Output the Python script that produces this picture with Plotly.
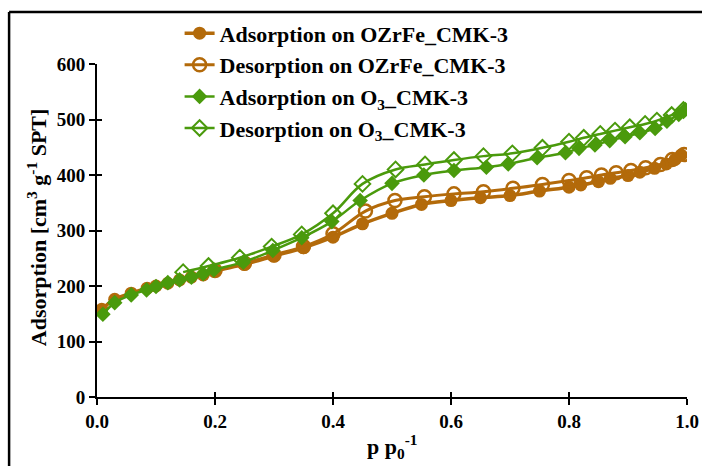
import plotly.graph_objects as go

# Relative pressure (p/p0) and adsorbed volume (cm3 g-1 STP)
p_ads_ozrfe = [0.008, 0.03, 0.058, 0.085, 0.10, 0.12, 0.14, 0.16, 0.18, 0.20, 0.25, 0.30, 0.35,
               0.40, 0.45, 0.50, 0.55, 0.60, 0.65, 0.70, 0.75, 0.80, 0.82, 0.85, 0.87, 0.90,
               0.92, 0.945, 0.965, 0.98, 0.99]
v_ads_ozrfe = [158, 176, 187, 196, 200, 205, 211, 216, 220, 227, 239, 254, 269,
               288, 312, 331, 347, 354, 359, 363, 371, 378, 382, 388, 394, 399,
               405, 412, 420, 428, 436]

p_des_ozrfe = [0.995, 0.975, 0.955, 0.93, 0.905, 0.88, 0.855, 0.83, 0.80, 0.755, 0.705, 0.655,
               0.605, 0.555, 0.505, 0.455, 0.40, 0.35, 0.30, 0.25, 0.20]
v_des_ozrfe = [437, 428, 419, 413, 408, 404, 400, 395, 390, 383, 376, 370,
               366, 361, 354, 335, 294, 271, 256, 241, 228]

p_ads_o3 = [0.01, 0.03, 0.058, 0.084, 0.10, 0.12, 0.14, 0.16, 0.18, 0.198, 0.248, 0.298, 0.347,
            0.398, 0.446, 0.50, 0.554, 0.605, 0.66, 0.697, 0.746, 0.794, 0.817, 0.844, 0.869,
            0.895, 0.92, 0.946, 0.966, 0.986, 0.997]
v_ads_o3 = [149, 170, 184, 193, 199, 206, 211, 216, 222, 229, 243, 264, 287,
            316, 354, 385, 400, 408, 414, 420, 431, 440, 448, 454, 462,
            469, 476, 484, 497, 509, 518]

p_des_o3 = [0.994, 0.974, 0.949, 0.929, 0.903, 0.878, 0.853, 0.825, 0.80, 0.755, 0.704, 0.655,
            0.605, 0.556, 0.506, 0.45, 0.40, 0.347, 0.296, 0.242, 0.189, 0.146]
v_des_o3 = [517, 508, 498, 492, 486, 480, 474, 467, 460, 449, 439, 434,
            427, 419, 410, 384, 331, 293, 271, 251, 236, 225]

x_ticks = [0.0, 0.2, 0.4, 0.6, 0.8, 1.0]
x_tick_text = ["0.0", "0.2", "0.4", "0.6", "0.8", "1.0"]
y_ticks = [0, 100, 200, 300, 400, 500, 600]

BROWN = "#B36A0A"
GREEN = "#4A9A0C"
FONT = "Liberation Serif, Times New Roman, serif"

fig = go.Figure()

fig.add_trace(go.Scatter(
    x=p_ads_ozrfe, y=v_ads_ozrfe, mode="lines+markers", line_shape="spline",
    name="<b>Adsorption on OZrFe_CMK-3</b>", legendgroup="g0",
    line=dict(color=BROWN, width=3.5),
    marker=dict(symbol="circle", size=13, color=BROWN),
))
fig.add_trace(go.Scatter(
    x=p_des_ozrfe, y=v_des_ozrfe, mode="lines+markers", line_shape="spline",
    name="<b>Desorption on OZrFe_CMK-3</b>", legendgroup="g1",
    line=dict(color=BROWN, width=3),
    marker=dict(symbol="circle-open", size=13, color=BROWN, line=dict(width=2.5, color=BROWN)),
))
fig.add_trace(go.Scatter(
    x=p_ads_o3, y=v_ads_o3, mode="lines+markers", line_shape="spline",
    name="<b>Adsorption on O<sub>3</sub>_CMK-3</b>", legendgroup="g2",
    line=dict(color=GREEN, width=2.5),
    marker=dict(symbol="diamond", size=12, color=GREEN),
))
fig.add_trace(go.Scatter(
    x=p_des_o3, y=v_des_o3, mode="lines+markers", line_shape="spline",
    name="<b>Desorption on O<sub>3</sub>_CMK-3</b>", legendgroup="g3",
    line=dict(color=GREEN, width=2.5),
    marker=dict(symbol="diamond-open", size=12, color=GREEN, line=dict(width=2, color=GREEN)),
))

axis_common = dict(showgrid=False, zeroline=False, showline=True, linecolor="black", linewidth=2,
                   ticks="outside", ticklen=6, tickwidth=2, tickcolor="black", automargin=False,
                   tickfont=dict(family=FONT, size=19, color="black"))

fig.update_layout(
    width=702, height=466,
    margin=dict(l=97, r=15, t=64, b=69),
    paper_bgcolor="white", plot_bgcolor="white",
    font=dict(family=FONT, color="black"),
    xaxis=dict(range=[0, 1], tickvals=x_ticks, ticktext=["<b>%s</b>" % t for t in x_tick_text],
               **axis_common),
    yaxis=dict(range=[0, 600], tickvals=y_ticks, ticktext=["<b>%d</b>" % t for t in y_ticks],
               **axis_common),
    # inner halves of the tick marks, so the ticks cross the axis lines
    xaxis2=dict(overlaying="x", matches="x", range=[0, 1], tickvals=x_ticks, showticklabels=False,
                showgrid=False, zeroline=False, showline=False, ticks="inside", ticklen=5,
                tickwidth=2, tickcolor="black", side="bottom", automargin=False),
    yaxis2=dict(overlaying="y", matches="y", range=[0, 600], tickvals=y_ticks, showticklabels=False,
                showgrid=False, zeroline=False, showline=False, ticks="inside", ticklen=5,
                tickwidth=2, tickcolor="black", side="left", automargin=False),
    legend=dict(x=0.14, y=1.155, xanchor="left", yanchor="top", bgcolor="rgba(0,0,0,0)",
                font=dict(family=FONT, size=22, color="black"), tracegroupgap=0,
                traceorder="grouped", itemwidth=30),
    showlegend=True,
)

# axis titles
fig.add_annotation(text="<b>p p<sub>0</sub><sup>-1</sup></b>", xref="paper", yref="paper",
                   x=0.5, y=-0.15, xanchor="center", yanchor="middle", showarrow=False,
                   font=dict(family=FONT, size=22, color="black"))
fig.add_annotation(text="<b>Adsorption [cm<sup>3</sup> g<sup>-1</sup> SPT]</b>", xref="paper",
                   yref="paper", x=-0.1017, y=0.51, xanchor="center", yanchor="middle",
                   textangle=-90, showarrow=False, font=dict(family=FONT, size=22, color="black"))

# empty trace that anchors the overlay tick axes
fig.add_trace(go.Scatter(x=[None], y=[None], xaxis="x2", yaxis="y2", showlegend=False,
                         hoverinfo="skip"))

# outer frame lines along the left and top edges
fig.add_shape(type="line", xref="paper", yref="paper", x0=-0.149, x1=-0.149, y0=1.156, y1=-0.25,
              line=dict(color="black", width=2.5))
fig.add_shape(type="line", xref="paper", yref="paper", x0=-0.149, x1=1.1, y0=1.156, y1=1.156,
              line=dict(color="black", width=2.5))

fig.write_html("out.html")
